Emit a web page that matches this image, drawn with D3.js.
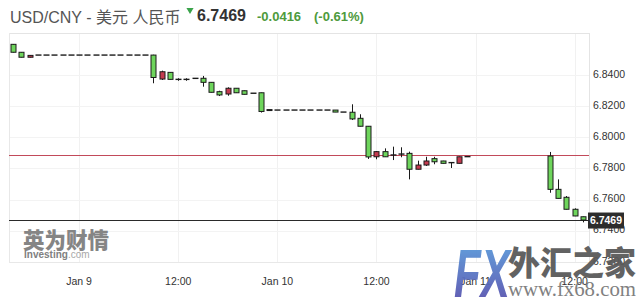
<!DOCTYPE html>
<html><head><meta charset="utf-8">
<script src="https://cdn.jsdelivr.net/npm/d3@7"></script>
<style>
html,body{margin:0;padding:0;background:#fff;}
svg{display:block;}
</style></head>
<body>
<svg id="chart" width="638" height="301"></svg>
<script>
// ---- data (hourly candles, USD/CNY) ----
const times = [
 "2017-01-08T16:00","2017-01-08T17:00","2017-01-08T18:00","2017-01-08T19:00","2017-01-08T20:00",
 "2017-01-08T21:00","2017-01-08T22:00","2017-01-08T23:00","2017-01-09T00:00","2017-01-09T01:00",
 "2017-01-09T02:00","2017-01-09T03:00","2017-01-09T04:00","2017-01-09T05:00","2017-01-09T06:00",
 "2017-01-09T07:00","2017-01-09T08:00","2017-01-09T09:00","2017-01-09T10:00","2017-01-09T11:00",
 "2017-01-09T12:00","2017-01-09T13:00","2017-01-09T14:00","2017-01-09T15:00","2017-01-09T16:00",
 "2017-01-09T17:00","2017-01-09T18:00","2017-01-09T19:00","2017-01-09T20:00","2017-01-09T21:00",
 "2017-01-09T22:00","2017-01-09T23:00","2017-01-10T00:00","2017-01-10T01:00","2017-01-10T02:00",
 "2017-01-10T03:00","2017-01-10T04:00","2017-01-10T05:00","2017-01-10T06:00","2017-01-10T07:00",
 "2017-01-10T08:00","2017-01-10T09:00","2017-01-10T10:00","2017-01-10T11:00","2017-01-10T12:00",
 "2017-01-10T13:00","2017-01-10T14:00","2017-01-10T15:00","2017-01-10T16:00","2017-01-10T17:00",
 "2017-01-10T18:00","2017-01-10T19:00","2017-01-10T20:00","2017-01-10T21:00","2017-01-10T22:00",
 "2017-01-10T23:00","2017-01-11T09:00","2017-01-11T10:00","2017-01-11T11:00","2017-01-11T12:00",
 "2017-01-11T13:00"];
const open = [
 6.8597,6.8546,6.8514,6.8528,6.8527,6.8528,6.8528,6.8529,6.8528,6.8528,
 6.8528,6.8528,6.8528,6.8528,6.8528,6.8528,6.8528,6.8528,6.8374,6.8417,
 6.8372,6.8372,6.8380,6.8379,6.8353,6.8293,6.8278,6.8315,6.8299,6.8284,
 6.8286,6.8177,6.8175,6.8175,6.8175,6.8175,6.8175,6.8175,6.8175,6.8175,
 6.8162,6.8161,6.8122,6.8071,6.7875,6.7908,6.7887,6.7893,6.7897,6.7795,
 6.7822,6.7863,6.7848,6.7838,6.7833,6.7876,6.7880,6.7666,6.7615,6.7538,
 6.7490];
const high = [
 6.8599,6.8547,6.8527,6.8528,6.8529,6.8528,6.8528,6.8529,6.8528,6.8528,
 6.8528,6.8528,6.8528,6.8528,6.8528,6.8528,6.8528,6.8530,6.8428,6.8418,
 6.8379,6.8379,6.8381,6.8394,6.8354,6.8299,6.8321,6.8316,6.8300,6.8284,
 6.8287,6.8177,6.8175,6.8175,6.8175,6.8175,6.8175,6.8175,6.8175,6.8175,
 6.8162,6.8212,6.8148,6.8072,6.7912,6.7929,6.7940,6.7936,6.7908,6.7850,
 6.7875,6.7875,6.7849,6.7838,6.7876,6.7876,6.7906,6.7730,6.7623,6.7544,
 6.7491];
const low = [
 6.8545,6.8513,6.8513,6.8528,6.8527,6.8528,6.8528,6.8527,6.8528,6.8528,
 6.8528,6.8528,6.8528,6.8528,6.8528,6.8528,6.8528,6.8347,6.8368,6.8371,
 6.8363,6.8363,6.8376,6.8325,6.8288,6.8265,6.8267,6.8285,6.8275,6.8282,
 6.8159,6.8173,6.8175,6.8175,6.8175,6.8175,6.8175,6.8175,6.8175,6.8162,
 6.8162,6.8111,6.8070,6.7861,6.7859,6.7874,6.7854,6.7872,6.7730,6.7794,
 6.7816,6.7827,6.7832,6.7803,6.7832,6.7876,6.7644,6.7607,6.7537,6.7494,
 6.7454];
const close = [
 6.8546,6.8514,6.8526,6.8528,6.8529,6.8528,6.8528,6.8527,6.8528,6.8528,
 6.8528,6.8528,6.8528,6.8528,6.8528,6.8528,6.8528,6.8384,6.8421,6.8372,
 6.8372,6.8372,6.8377,6.8353,6.8289,6.8272,6.8315,6.8286,6.8276,6.8282,
 6.8166,6.8173,6.8175,6.8175,6.8175,6.8175,6.8175,6.8175,6.8175,6.8162,
 6.8162,6.8118,6.8071,6.7874,6.7908,6.7875,6.7886,6.7892,6.7795,6.7822,
 6.7848,6.7843,6.7833,6.7837,6.7875,6.7876,6.7666,6.7608,6.7538,6.7495,
 6.7469];
const yTicks = [6.72, 6.74, 6.76, 6.78, 6.80, 6.82, 6.84];
const xTicks = ["2017-01-09T00:00","2017-01-09T12:00","2017-01-10T00:00","2017-01-10T12:00","2017-01-11T00:00","2017-01-11T12:00"];
const xTickLabels = ["Jan 9","12:00","Jan 10","12:00","Jan 11","12:00"];
const prevClose = 6.7885;
const last = 6.7469;
const titleText = "USD/CNY - 美元 人民币";
const priceText = "6.7469";
const changeText = "-0.0416";
const pctText = "(-0.61%)";

// ---- layout ----
const W = 638, H = 301;
const plot = {left: 9, right: 589, top: 33, bottom: 262};
const parse = d3.timeParse("%Y-%m-%dT%H:%M");
const data = times.map((t, i) => ({t: parse(t), o: open[i], h: high[i], l: low[i], c: close[i]}));

const t0 = parse("2017-01-09T00:00");
const x = d3.scaleTime()
  .domain([d3.timeMinute.offset(t0, -509), d3.timeMinute.offset(t0, 3704)])
  .range([plot.left, plot.right]);
const y = d3.scaleLinear().domain([6.71995, 6.86697]).range([plot.bottom, plot.top]);

const svg = d3.select("#chart");
svg.append("rect").attr("width", W).attr("height", H).attr("fill", "#fff");

// grid
const g = svg.append("g");
g.selectAll(".vg").data(xTicks).enter().append("line")
  .attr("x1", d => Math.round(x(parse(d))) + 0.5).attr("x2", d => Math.round(x(parse(d))) + 0.5)
  .attr("y1", plot.top).attr("y2", plot.bottom)
  .attr("stroke", "#f1f1f1").attr("stroke-width", 1);
g.selectAll(".hg").data(yTicks).enter().append("line")
  .attr("x1", plot.left).attr("x2", plot.right)
  .attr("y1", d => Math.round(y(d)) + 0.5).attr("y2", d => Math.round(y(d)) + 0.5)
  .attr("stroke", "#f3f3f3").attr("stroke-width", 1);

// frame
g.append("line").attr("x1", plot.left).attr("x2", plot.right).attr("y1", plot.top + 0.5).attr("y2", plot.top + 0.5).attr("stroke", "#e4e4e4");
g.append("line").attr("x1", plot.left + 0.5).attr("x2", plot.left + 0.5).attr("y1", plot.top).attr("y2", plot.bottom).attr("stroke", "#e8e8e8");
g.append("line").attr("x1", plot.right + 0.5).attr("x2", plot.right + 0.5).attr("y1", plot.top).attr("y2", plot.bottom).attr("stroke", "#e4e4e4");
g.append("line").attr("x1", plot.left).attr("x2", plot.right).attr("y1", plot.bottom + 0.5).attr("y2", plot.bottom + 0.5).attr("stroke", "#e8e8e8");

// watermarks (behind marks)
const wm = svg.append("g");
wm.append("text").attr("x", 23).attr("y", 248)
  .attr("font-family", "'Noto Sans CJK SC', sans-serif").attr("font-weight", 900)
  .attr("font-size", 22).attr("fill", "#858585").attr("textLength", 86).attr("lengthAdjust", "spacingAndGlyphs")
  .text("英为财情");
const inv = wm.append("text").attr("x", 24).attr("y", 258)
  .attr("font-family", "'Liberation Sans', Arial, sans-serif").attr("font-size", 10).attr("font-weight", "bold").attr("fill", "#808080");
inv.append("tspan").text("Investing");
inv.append("tspan").attr("font-weight", "normal").attr("fill", "#a8a8a8").text(".com");

// y axis labels
svg.append("g").selectAll("text").data(yTicks).enter().append("text")
  .attr("x", 593).attr("y", d => y(d) - 1).attr("dy", "0.35em")
  .attr("font-family", "'Liberation Sans', Arial, sans-serif").attr("font-size", 10.5).attr("fill", "#333")
  .text(d => d3.format(".4f")(d));

// x axis labels
svg.append("g").selectAll("text").data(xTicks).enter().append("text")
  .attr("x", d => x(parse(d))).attr("y", 285).attr("text-anchor", "middle")
  .attr("font-family", "'Liberation Sans', Arial, sans-serif").attr("font-size", 10.5).attr("fill", "#333")
  .text((d, i) => xTickLabels[i]);

// reference lines
svg.append("line").attr("x1", plot.left).attr("x2", plot.right)
  .attr("y1", Math.round(y(prevClose)) + 0.5).attr("y2", Math.round(y(prevClose)) + 0.5)
  .attr("stroke", "#c24a5a").attr("stroke-width", 1);
svg.append("line").attr("x1", plot.left).attr("x2", plot.right)
  .attr("y1", Math.round(y(last)) + 0.5).attr("y2", Math.round(y(last)) + 0.5)
  .attr("stroke", "#2a2a2a").attr("stroke-width", 1.2);

// candles
const bw = 5;
const cg = svg.append("g");
data.forEach(d => {
  const cx = Math.round(x(d.t)) + 0.5;
  const yo = y(d.o), yc = y(d.c);
  const yh = y(d.h), yl = y(d.l);
  if (yl - yh > 0.8) {
    cg.append("line").attr("x1", cx).attr("x2", cx).attr("y1", yh).attr("y2", yl)
      .attr("stroke", "#1a1a1a").attr("stroke-width", 1);
  }
  if (Math.abs(yo - yc) < 1.5) {
    cg.append("line").attr("x1", cx - bw / 2 - 0.5).attr("x2", cx + bw / 2 + 0.5)
      .attr("y1", (yo + yc) / 2).attr("y2", (yo + yc) / 2)
      .attr("stroke", "#1a1a1a").attr("stroke-width", Math.abs(yo - yc) > 0.5 ? 2 : 1.4);
  } else {
    cg.append("rect").attr("x", cx - bw / 2).attr("width", bw)
      .attr("y", Math.min(yo, yc)).attr("height", Math.abs(yo - yc))
      .attr("fill", d.c < d.o ? "#6ed55c" : "#c43a4f")
      .attr("stroke", "#1a1a1a").attr("stroke-width", 1);
  }
});

// last price box
const ly = y(last);
svg.append("rect").attr("x", 588).attr("y", ly - 7.5).attr("width", 36).attr("height", 16)
  .attr("fill", "#2d2d2d");
svg.append("text").attr("x", 606).attr("y", ly + 0.5).attr("dy", "0.35em").attr("text-anchor", "middle")
  .attr("font-family", "'Liberation Sans', Arial, sans-serif").attr("font-size", 10.5).attr("font-weight", "bold")
  .attr("fill", "#fff").text(priceText);

// FX watermark
const defs = svg.append("defs");
const grad = defs.append("linearGradient").attr("id", "fxg").attr("x1", 0).attr("y1", 0).attr("x2", 0).attr("y2", 1);
grad.append("stop").attr("offset", "0%").attr("stop-color", "#5aa5e0");
grad.append("stop").attr("offset", "100%").attr("stop-color", "#5a48a8");
const fx = svg.append("g").attr("opacity", 0.95);
fx.append("text").attr("x", 454).attr("y", 297)
  .attr("font-family", "'Liberation Sans', Arial, sans-serif").attr("font-weight", "bold").attr("font-style", "italic")
  .attr("font-size", 68).attr("fill", "url(#fxg)").attr("textLength", 56).attr("lengthAdjust", "spacingAndGlyphs")
  .text("FX");
fx.append("text").attr("x", 508).attr("y", 275)
  .attr("font-family", "'Noto Sans CJK SC', sans-serif").attr("font-weight", 900)
  .attr("font-size", 33).attr("fill", "#5a5a5a").attr("textLength", 128).attr("lengthAdjust", "spacingAndGlyphs")
  .text("外汇之家");
fx.append("text").attr("x", 508).attr("y", 296)
  .attr("font-family", "'Liberation Serif', 'Times New Roman', serif")
  .attr("font-size", 21).attr("fill", "#7a7a7a").attr("textLength", 128).attr("lengthAdjust", "spacingAndGlyphs")
  .text("www.fx68.com");

// header
svg.append("text").attr("x", 10).attr("y", 23)
  .attr("font-family", "'Liberation Sans', Arial, 'Noto Sans CJK SC', sans-serif").attr("font-size", 16).attr("fill", "#555")
  .text(titleText);
svg.append("path")
  .attr("d", d3.symbol().type(d3.symbolTriangle).size(22)())
  .attr("transform", "translate(190,10) rotate(180)")
  .attr("fill", "#3aa34a");
svg.append("text").attr("x", 197).attr("y", 21)
  .attr("font-family", "'Liberation Sans', Arial, sans-serif").attr("font-size", 16).attr("font-weight", "bold").attr("fill", "#333")
  .text(priceText);
svg.append("text").attr("x", 257).attr("y", 21)
  .attr("font-family", "'Liberation Sans', Arial, sans-serif").attr("font-size", 13).attr("font-weight", "bold").attr("fill", "#4e9a3c")
  .text(changeText);
svg.append("text").attr("x", 314).attr("y", 21)
  .attr("font-family", "'Liberation Sans', Arial, sans-serif").attr("font-size", 13).attr("font-weight", "bold").attr("fill", "#4e9a3c")
  .text(pctText);
</script>
</body></html>
